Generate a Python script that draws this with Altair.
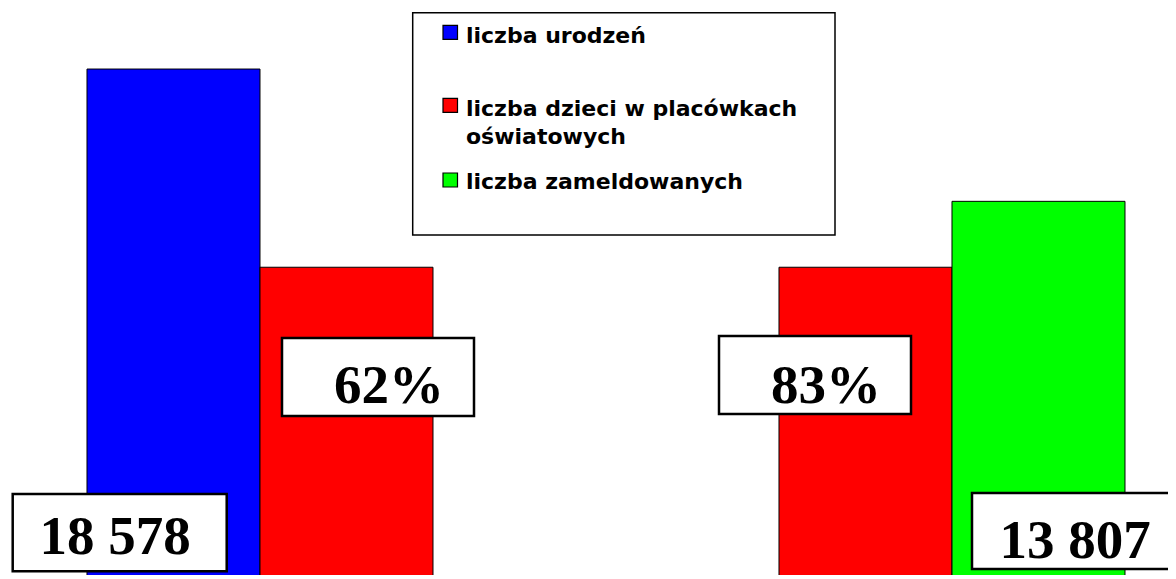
import altair as alt
import pandas as pd

# ---- data ----
series = ["liczba urodzeń",
          "liczba dzieci w placówkach oświatowych",
          "liczba dzieci w placówkach oświatowych",
          "liczba zameldowanych"]
values = [18578, 11430, 11430, 13807]
slots = [0, 1, 4, 5]          # category position of each bar (two groups with a gap)
legend_names = ["liczba urodzeń", "liczba dzieci w placówkach oświatowych", "liczba zameldowanych"]
legend_colors = ["#0000FF", "#FF0000", "#00FF00"]
value_labels = ["18 578", "62%", "83%", "13 807"]

W, H = 1160, 567

bars_df = pd.DataFrame({"series": series, "value": values, "slot": slots})
bars_df["slot_end"] = bars_df["slot"] + 1

xscale = alt.Scale(domain=[-0.4566, 6.2486], nice=False, zero=False)
yscale = alt.Scale(domain=[332, 20779], nice=False, zero=False)

bars = alt.Chart(bars_df).mark_rect(clip=True, stroke="#000000", strokeWidth=1).encode(
    x=alt.X("slot:Q", scale=xscale, axis=None),
    x2="slot_end:Q",
    y=alt.Y("value:Q", scale=yscale, axis=None),
    y2=alt.datum(0),
    color=alt.Color("series:N", scale=alt.Scale(domain=legend_names, range=legend_colors), legend=None),
)

one = pd.DataFrame({"k": [0]})

def box(x1, x2, y1, y2, sw=2.5):
    return alt.Chart(one).mark_rect(fill="white", stroke="black", strokeWidth=sw).encode(
        x=alt.value(x1), x2=alt.value(x2), y=alt.value(y1), y2=alt.value(y2))

def label(txt, x, y, size=55, font="Liberation Serif", align="center", weight="bold"):
    return alt.Chart(pd.DataFrame({"t": [txt]})).mark_text(
        font=font, fontSize=size, fontWeight=weight, align=align, baseline="alphabetic", color="black"
    ).encode(text="t:N", x=alt.value(x), y=alt.value(y))

layers = [bars]
# value label boxes
layers += [box(4.7, 218.7, 486, 563.2), label(value_labels[0], 107, 546)]
layers += [box(274, 466, 330, 408), label(value_labels[1], 381, 395)]
layers += [box(711, 903, 328, 406), label(value_labels[2], 818, 395)]
layers += [box(964, W + 20, 485, 561), label(value_labels[3], 1067, 550)]

# legend
layers.append(box(404.7, 827, 4.7, 227, sw=1.5))
sq_y = [17.3, 90.3, 165]
for name, col, yy in zip(legend_names, legend_colors, sq_y):
    layers.append(alt.Chart(one).mark_rect(fill=col, stroke="black", strokeWidth=1.2).encode(
        x=alt.value(435), x2=alt.value(449.5), y=alt.value(yy), y2=alt.value(yy + 14)))
lf = dict(size=22, font="DejaVu Sans", align="left")
layers.append(label("liczba urodzeń", 458, 35, **lf))
layers.append(label("liczba dzieci w placówkach", 458, 108, **lf))
layers.append(label("oświatowych", 458, 136, **lf))
layers.append(label("liczba zameldowanych", 458, 181, **lf))

chart = alt.layer(*layers).properties(
    width=W, height=H, padding=0, autosize=alt.AutoSizeParams(type="none")
).configure_view(stroke=None)

chart.save("out.html", embed_options={"renderer": "svg", "actions": False})
